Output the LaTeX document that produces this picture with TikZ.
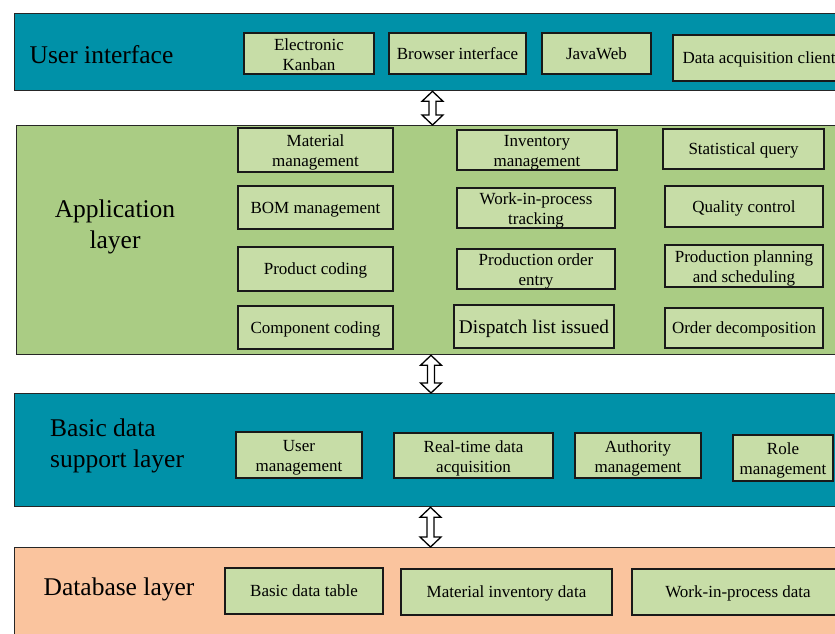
\documentclass[tikz,border=0pt]{standalone}
\usepackage{fontspec}
\setmainfont{Liberation Serif}
\usetikzlibrary{calc}

\definecolor{layerteal}{RGB}{0,145,168}
\definecolor{layergreen}{RGB}{170,204,132}
\definecolor{layerpeach}{RGB}{250,196,158}
\definecolor{modfill}{RGB}{199,221,167}

% hollow double-headed arrow linking two stacked layers at abscissa #1
\newcommand\layerlink[3]{%
  \path (#1,0) coordinate (lx);
  \path (lx|-#2.south) coordinate (lt) (lx|-#3.north) coordinate (lb);
  \draw[linkarrow] (lt) -- ($(lt)+(10.5,10)$) -- ($(lt)+(3.5,10)$)
    -- ($(lb)+(3.5,-10)$) -- ($(lb)+(10.5,-10)$) -- (lb)
    -- ($(lb)+(-10.5,-10)$) -- ($(lb)+(-3.5,-10)$)
    -- ($(lt)+(-3.5,10)$) -- ($(lt)+(-10.5,10)$) -- cycle;
}

\begin{document}
\begin{tikzpicture}[x=1pt,y=-1pt,
  layer/.style={draw=black!85, line width=1.3pt, anchor=north west,
    minimum width=830pt, inner sep=0pt},
  layerlabel/.style={font=\fontsize{25.5}{31}\selectfont, align=left, inner sep=0pt},
  mod/.style={draw=black!90, fill=modfill, line width=1.2pt, inner sep=0pt,
    align=center, font=\fontsize{17}{20}\selectfont,
    text height=12pt, text depth=0.6pt},
  two/.style={text height=33.5pt, text depth=0pt},
  linkarrow/.style={draw=black, fill=white, line width=1.3pt, line join=miter}]
\useasboundingbox (0,0) rectangle (835,633);
\clip (0,0) rectangle (835,633);

% layers
\node[layer, fill=layerteal, minimum height=77pt] (ui) at (14,13) {};
\node[layer, fill=layergreen, minimum height=229pt] (app) at (16,125) {};
\node[layer, fill=layerteal, minimum height=113pt] (base) at (14,393) {};
\node[layer, fill=layerpeach, minimum height=100pt] (db) at (14,547) {};

% layer titles
\node[layerlabel] (uilbl) at (101.5,54.5) {User interface};
\node[layerlabel, align=center] (applbl) at (115,227) {Application\\layer};
\node[layerlabel, anchor=west] (baselbl) at (50,445.5) {Basic data\\support layer};
\node[layerlabel] (dblbl) at (119,589) {Database layer};

% user interface modules
\node[mod, two, minimum width=130pt, minimum height=41pt] (kanban) at (309,53.5) {Electronic\\Kanban};
\node[mod, minimum width=137pt, minimum height=41pt] (browser) at (457.5,53.5) {Browser interface};
\node[mod, minimum width=109pt, minimum height=41pt] (javaweb) at (596.5,53.5) {JavaWeb};
\node[mod, minimum width=172pt, minimum height=46pt] (daq) at (759,58) {Data acquisition client};

% application modules
\node[mod, two, minimum width=155pt, minimum height=44pt] (material) at (315.5,150) {Material\\management};
\node[mod, minimum width=155pt, minimum height=43pt] (bom) at (315.5,207.5) {BOM management};
\node[mod, minimum width=155pt, minimum height=44pt] (product) at (315.5,269) {Product coding};
\node[mod, minimum width=155pt, minimum height=43pt] (component) at (315.5,327.5) {Component coding};

\node[mod, two, minimum width=160pt, minimum height=40pt] (inventory) at (537,150) {Inventory\\management};
\node[mod, two, minimum width=158pt, minimum height=40pt] (wip) at (536,208) {Work-in-process\\tracking};
\node[mod, two, minimum width=158pt, minimum height=40pt] (orderentry) at (536,269) {Production order\\entry};
\node[mod, minimum width=160pt, minimum height=43pt, font=\fontsize{19.3}{22}\selectfont,
  text height=13.5pt, text depth=0.5pt] (dispatch) at (534,326.5) {Dispatch list issued};

\node[mod, minimum width=161pt, minimum height=40pt] (stat) at (743.5,149) {Statistical query};
\node[mod, minimum width=158pt, minimum height=41pt] (quality) at (744,206.5) {Quality control};
\node[mod, two, minimum width=158pt, minimum height=42pt] (planning) at (744,266) {Production planning\\and scheduling};
\node[mod, minimum width=158pt, minimum height=40pt] (decomp) at (744,328) {Order decomposition};

% basic data support modules
\node[mod, two, minimum width=126pt, minimum height=46pt] (usermgmt) at (299,455) {User\\management};
\node[mod, two, minimum width=159pt, minimum height=45pt] (realtime) at (473.5,455.5) {Real-time data\\acquisition};
\node[mod, two, minimum width=126pt, minimum height=45pt] (authority) at (638,455.5) {Authority\\management};
\node[mod, two, minimum width=100pt, minimum height=46pt] (role) at (783,458) {Role\\management};

% database modules
\node[mod, minimum width=158pt, minimum height=46pt] (basictable) at (304,591) {Basic data table};
\node[mod, minimum width=211pt, minimum height=46pt] (matinv) at (506.5,592) {Material inventory data};
\node[mod, minimum width=212pt, minimum height=46pt] (wipdata) at (738,592) {Work-in-process data};

% links between layers
\layerlink{432.5}{ui}{app}
\layerlink{431}{app}{base}
\layerlink{430.5}{base}{db}
\end{tikzpicture}
\end{document}
